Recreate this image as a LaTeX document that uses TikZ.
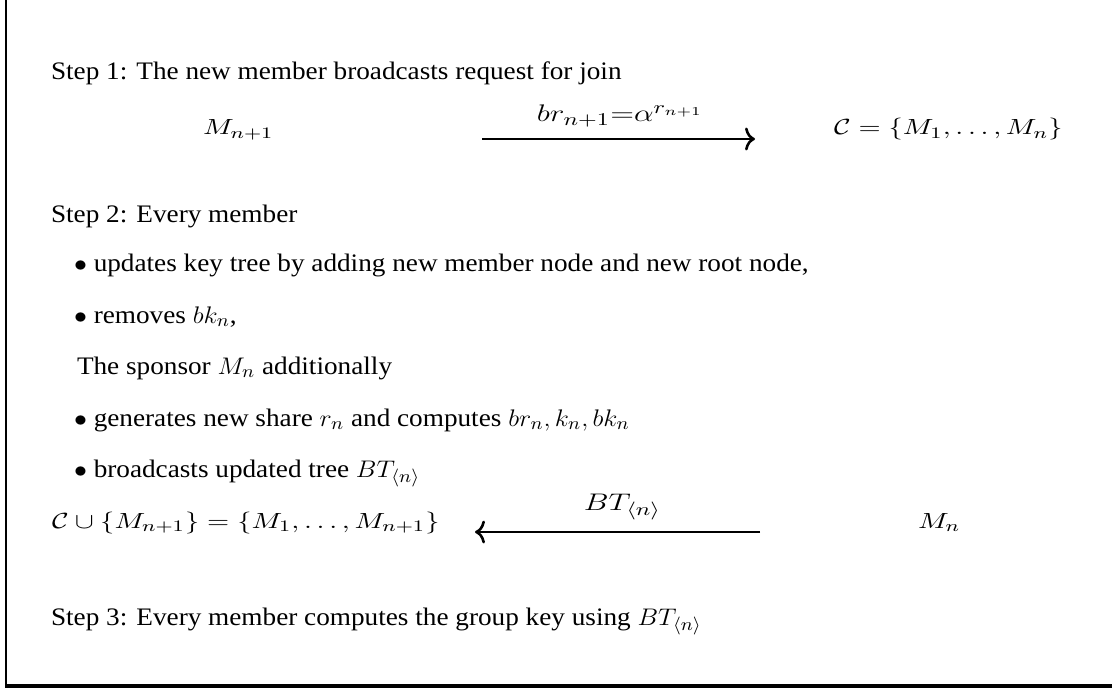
\documentclass[tikz,border=0pt]{standalone}
\usepackage{fontspec}
\setmainfont{Liberation Serif}
\usepackage{graphicx}
\usetikzlibrary{arrows.meta}
\newcommand{\txl}[1]{\scalebox{1.08}[1]{\fontsize{12.6}{15}\selectfont #1}}
\newcommand{\dmath}[1]{\scalebox{1.3}[1]{\fontsize{11}{13}\selectfont $#1$}}
\newcommand{\lmath}[1]{\scalebox{1.3}[1]{\fontsize{12.4}{15}\selectfont $#1$}}
\begin{document}
\begin{tikzpicture}[x=0.5pt,y=-0.5pt,
  txt/.style={anchor=base west,inner sep=0pt,outer sep=0pt},
  lbl/.style={anchor=base,inner sep=0pt,outer sep=0pt},
  msg/.style={line width=1.3pt,-{To[length=5pt,width=11.5pt]}}]
\useasboundingbox (0,0) rectangle (1112,689);
% frame
\coordinate (ftop) at (6,0);
\coordinate (fbot) at (6,687);
\coordinate (fleft) at (5,686);
\coordinate (fright) at (1112,686);
\draw[line width=1pt] (ftop) -- (fbot);
\draw[line width=2pt] (fleft) -- (fright);
% step 1
\node[txt] (s1) at (51,80) {\txl{Step 1: The new member broadcasts request for join}};
\node[txt] (mn1) at (203,135) {\dmath{M_{n+1}}};
\node[txt] (C) at (834,135) {\dmath{\mathcal{C}=\{M_1,\ldots,M_n\}}};
\coordinate (a1s) at (482,139);
\coordinate (a1e) at (755,139);
\draw[msg] (a1s) -- node[lbl,pos=0.5,yshift=8.5pt,xshift=0.8pt] (l1) {\lmath{br_{n+1}{=}\alpha^{r_{n+1}}}} (a1e);
% step 2
\node[txt] (s2) at (51,223) {\txl{Step 2: Every member}};
\node[txt] (b1) at (74,272) {\txl{$\bullet$ updates key tree by adding new member node and new root node,}};
\node[txt] (b2) at (74,323) {\txl{$\bullet$ removes $bk_n$,}};
\node[txt] (sp) at (77,374) {\txl{The sponsor $M_n$ additionally}};
\node[txt] (b3) at (74,426) {\txl{$\bullet$ generates new share $r_n$ and computes $br_n, k_n, bk_n$}};
\node[txt] (b4) at (74,477) {\txl{$\bullet$ broadcasts updated tree $BT_{\langle n\rangle}$}};
\node[txt] (cu) at (52,528) {\dmath{\mathcal{C}\cup\{M_{n+1}\}=\{M_1,\ldots,M_{n+1}\}}};
\node[txt] (mn) at (918,528) {\dmath{M_n}};
\coordinate (a2s) at (760,532);
\coordinate (a2e) at (475,532);
\draw[msg] (a2s) -- node[lbl,pos=0.5,yshift=11pt,xshift=2.5pt] (l2) {\lmath{BT_{\langle n\rangle}}} (a2e);
% step 3
\node[txt] (s3) at (51,625) {\txl{Step 3: Every member computes the group key using $BT_{\langle n\rangle}$}};
\end{tikzpicture}
\end{document}
